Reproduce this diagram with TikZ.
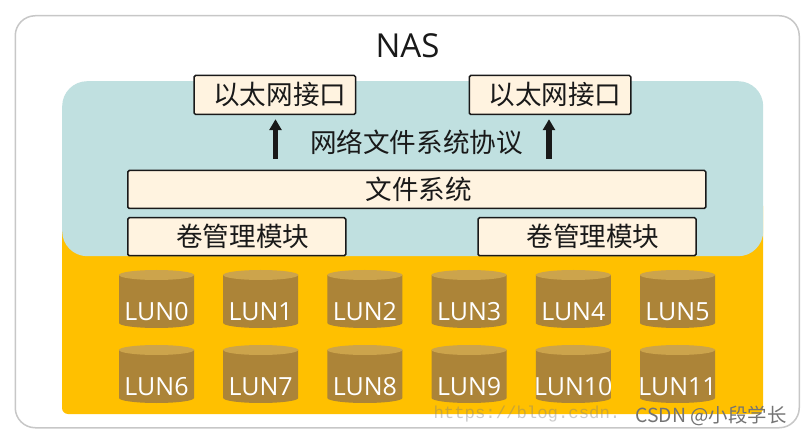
\documentclass[tikz,border=0pt]{standalone}
\usepackage{fontspec}
\setmainfont{Open Sans}
\newfontfamily\cjk{Noto Sans CJK SC}
\newfontfamily\wmfont{Liberation Mono}
\usetikzlibrary{arrows.meta,positioning}
\definecolor{ink}{RGB}{25,25,25}
\definecolor{paper}{RGB}{255,243,224}
\definecolor{tealbg}{RGB}{192,224,224}
\definecolor{orangebg}{RGB}{255,192,0}
\definecolor{lunbody}{RGB}{172,132,56}
\definecolor{luntop}{RGB}{204,164,76}
\tikzset{
  frame/.style={draw=black!22,line width=1.5pt,rounded corners=20pt,fill=white},
  modbox/.style={draw=ink,line width=1.5pt,rounded corners=1.5pt,fill=paper,inner sep=0pt,
    font=\cjk\fontsize{26.6}{26.6}\selectfont,text=ink,anchor=north west},
  lun/.style={minimum width=75pt,minimum height=58pt,inner sep=0pt,outer sep=0pt,
    path picture={
      \fill[lunbody] ([yshift=-5pt]path picture bounding box.north west)
        -- ([yshift=5pt]path picture bounding box.south west)
        arc[start angle=180,end angle=360,x radius=37.5pt,y radius=5pt]
        -- ([yshift=-5pt]path picture bounding box.north east) -- cycle;
      \fill[luntop] ([yshift=-5pt]path picture bounding box.north)
        ellipse[x radius=37.5pt,y radius=5pt];
    }},
  lunlab/.style={font=\fontsize{25}{25}\selectfont,text=white,inner sep=0pt},
  up/.style={-{Triangle[length=11pt,width=12pt]},line width=5.5pt,ink,shorten >=4pt},
}
\begin{document}
\begin{tikzpicture}[x=1pt,y=-1pt]
\useasboundingbox (0,0) rectangle (803,435);
\node[frame,minimum width=784pt,minimum height=412pt,anchor=north west] (nas) at (14.5,15) {};
\node[font=\fontsize{33}{33}\selectfont,text=ink] (title) at (407.5,46) {NAS};
% storage area and the teal part over it
\fill[orangebg,rounded corners=6pt] (62,200) rectangle (763,414);
\node[fill=tealbg,rounded corners=25pt,minimum width=701pt,minimum height=175pt,
  anchor=north west,inner sep=0pt] (host) at (62,81) {};
\node[modbox,minimum width=161.5pt,minimum height=39pt] (eth1) at (193.3,74.7) {\hspace*{10pt}以太网接口};
\node[modbox,minimum width=161.5pt,minimum height=39pt] (eth2) at (468.5,74.7) {\hspace*{10pt}以太网接口};
\node[modbox,minimum width=578pt,minimum height=38pt] (fs) at (127,169.7) {\hspace*{4pt}文件系统};
\node[modbox,minimum width=218pt,minimum height=38pt] (vol1) at (127,217) {\hspace*{12pt}卷管理模块};
\node[modbox,minimum width=218pt,minimum height=38pt] (vol2) at (477.3,217) {\hspace*{12pt}卷管理模块};
\node[font=\cjk\fontsize{26.6}{26.6}\selectfont,text=ink] (proto) at (416.5,142) {网络文件系统协议};
\coordinate (a1) at (275.5,159);
\coordinate (a2) at (549,159);
\draw[up] (a1) -- (eth1.south -| a1);
\draw[up] (a2) -- (eth2.south -| a2);
% the two rows of disks
\foreach \n in {0,...,5}{
  \pgfmathsetmacro{\xx}{156.5+104.2*\n}
  \pgfmathtruncatemacro{\m}{\n+6}
  \node[lun,label={[lunlab,yshift=-13pt]center:LUN\n}] (lun\n) at (\xx,299) {};
  \node[lun,label={[lunlab,yshift=-13pt]center:LUN\m}] (lun\m) at (\xx,374) {};
}
\node[font=\wmfont\fontsize{17.3}{17.3}\selectfont,text=gray,text opacity=.4,anchor=west] (wm) at (430,414) {https://blog.csdn.};
\node[font=\cjk\fontsize{19.4}{19.4}\selectfont,text=black!55,anchor=east] (csdn) at (790,416) {CSDN @小段学长};
\end{tikzpicture}
\end{document}
